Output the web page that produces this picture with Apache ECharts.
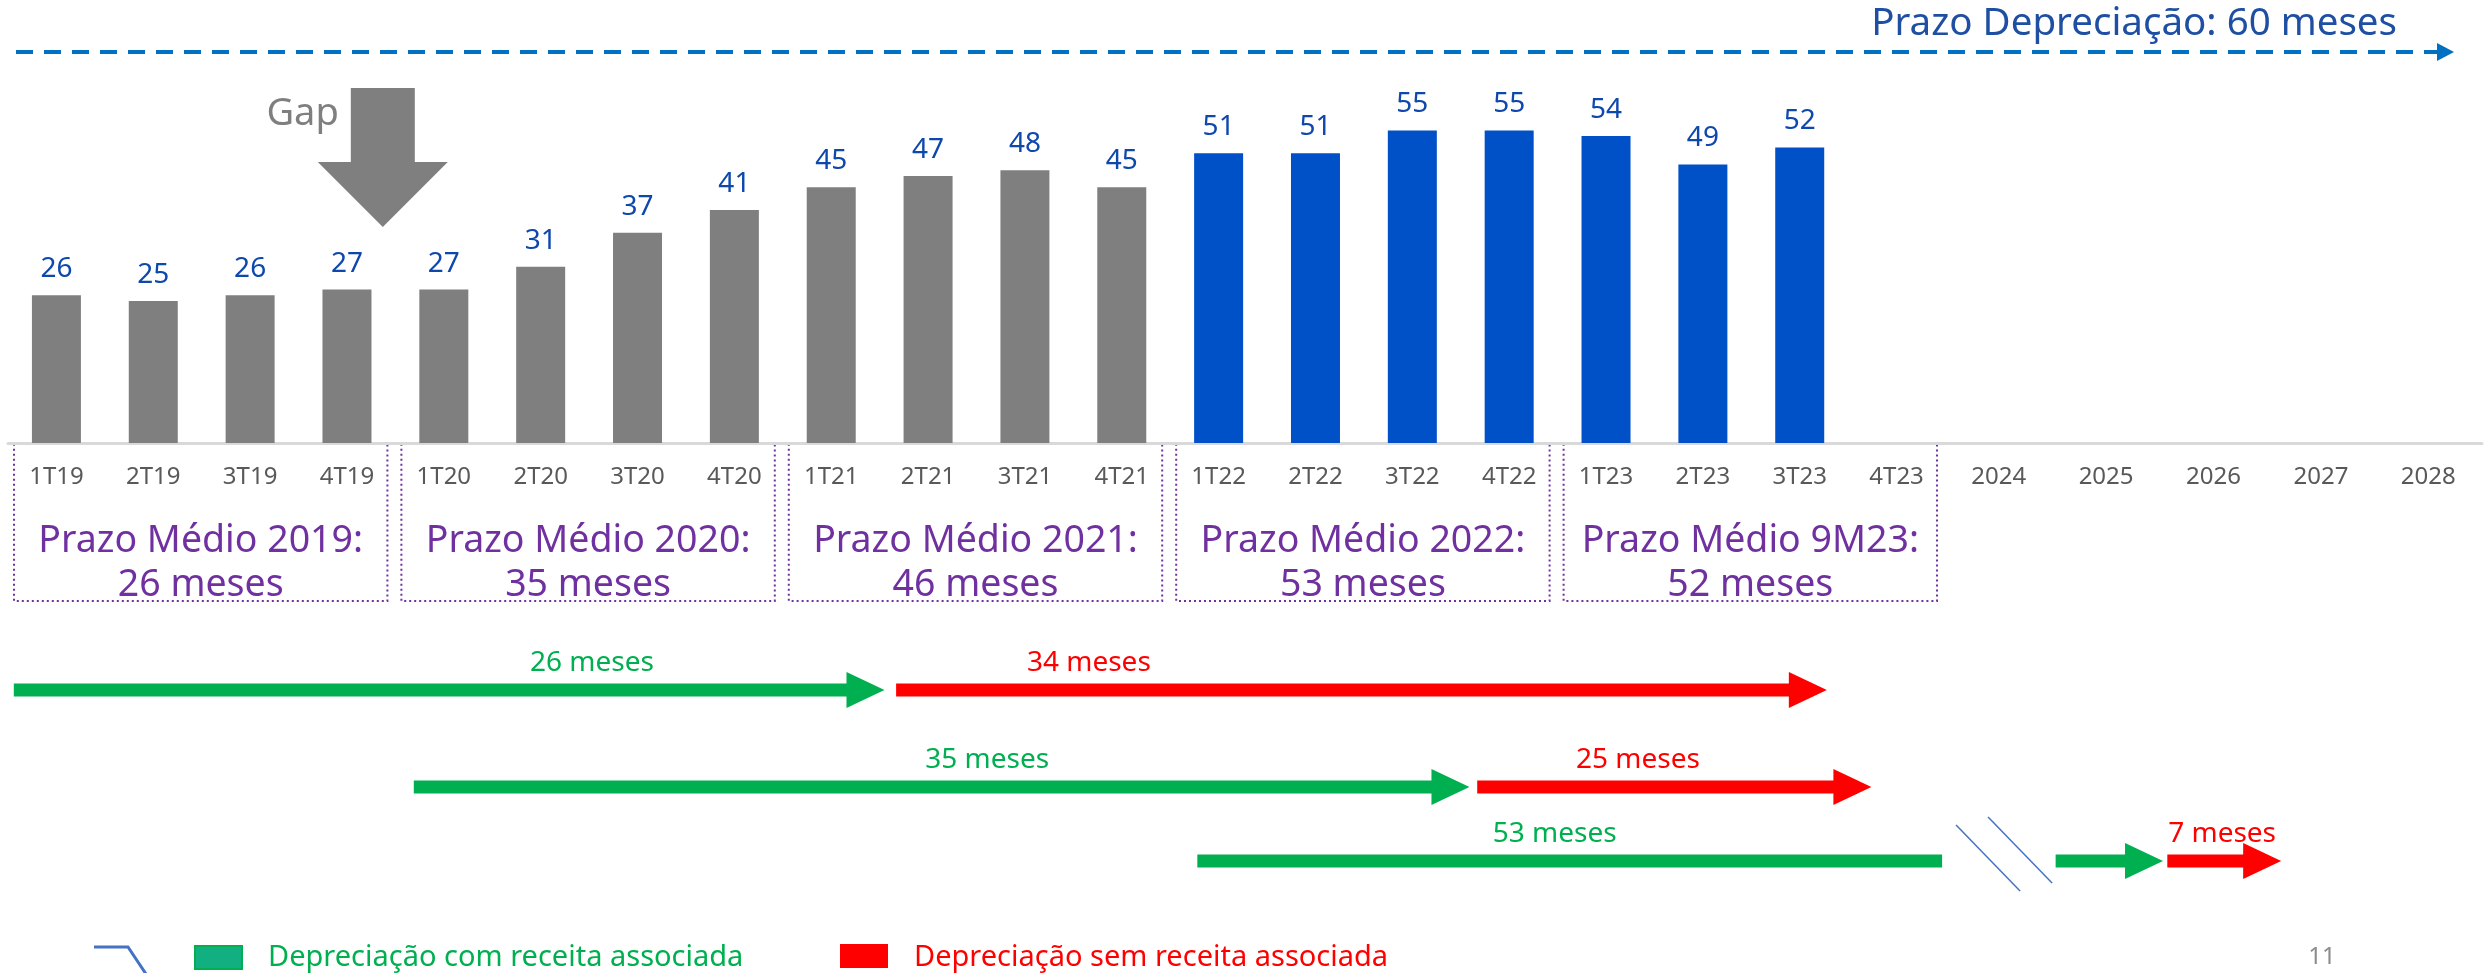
<!DOCTYPE html>
<html>
<head>
<meta charset="utf-8">
<script src="https://cdn.jsdelivr.net/npm/echarts@6/dist/echarts.min.js"></script>
<style>
  html, body { margin: 0; padding: 0; background: #fff; }
  #chart { width: 2489px; height: 973px; }
</style>
</head>
<body>
<div id="chart"></div>
<script>
// dados
const quarters = ['1T19', '2T19', '3T19', '4T19', '1T20', '2T20', '3T20', '4T20',
  '1T21', '2T21', '3T21', '4T21', '1T22', '2T22', '3T22', '4T22',
  '1T23', '2T23', '3T23', '4T23']
const years = ['2024', '2025', '2026', '2027', '2028']
const prazoMedio = [26, 25, 26, 27, 27, 31, 37, 41, 45, 47, 48, 45, 51, 51, 55, 55, 54, 49, 52]
const firstBlueIdx = 12 // a partir de 1T22

const groupTitle = ['Prazo Médio 2019:', 'Prazo Médio 2020:', 'Prazo Médio 2021:', 'Prazo Médio 2022:', 'Prazo Médio 9M23:']
const groupMonths = [26, 35, 46, 53, 52]

// setas (posição na linha do tempo: 0..20 trimestres, 20..25 anos)
const spanFrom = [0.06, 9.17, 4.19, 15.17, 12.28, 21.03, 22.07]
const spanTo = [9.05, 18.78, 15.09, 19.24, 19.97, 22.03, 23.13]
const spanRow = [0, 0, 1, 1, 2, 2, 2]
const spanKind = ['com', 'sem', 'com', 'sem', 'com', 'com', 'sem']
const spanHead = [true, true, true, true, false, true, true]
const spanText = ['26 meses', '34 meses', '35 meses', '25 meses', '53 meses', '', '7 meses']
const spanTextAt = [6.03, 11.16, 10.11, 16.83, 15.97, null, 22.58]
const breakAt = 20.55
const gapAt = 3.87

const FONT = '"Noto Sans", sans-serif'
const GREEN = '#00B050'
const RED = '#FF0000'
const PURPLE = '#7030A0'

const chart = echarts.init(document.getElementById('chart'))

chart.setOption({
  animation: false,
  textStyle: { fontFamily: FONT },
  grid: [
    { left: 8, right: 544, top: 102, bottom: 530 },
    { left: 1945, right: 7, top: 102, bottom: 530 }
  ],
  xAxis: [
    {
      type: 'category',
      gridIndex: 0,
      data: quarters,
      axisLine: { lineStyle: { color: '#D9D9D9', width: 3 } },
      axisTick: { show: false },
      axisLabel: { interval: 0, color: '#595959', fontSize: 24, margin: 22 }
    },
    {
      type: 'category',
      gridIndex: 1,
      data: years,
      axisLine: { lineStyle: { color: '#D9D9D9', width: 3 } },
      axisTick: { show: false },
      axisLabel: { interval: 0, color: '#595959', fontSize: 24, margin: 22 }
    }
  ],
  yAxis: [
    { type: 'value', gridIndex: 0, min: 0, max: 60, show: false },
    { type: 'value', gridIndex: 1, min: 0, max: 60, show: false }
  ],
  series: [
    {
      type: 'bar',
      data: prazoMedio,
      barWidth: 49,
      itemStyle: {
        color: p => (p.dataIndex < firstBlueIdx ? '#7F7F7F' : '#0050C8')
      },
      label: {
        show: true,
        position: 'top',
        distance: 12,
        color: '#0E48AD',
        fontSize: 28
      }
    },
    { type: 'bar', xAxisIndex: 1, yAxisIndex: 1, data: [] }
  ]
})

// linha do tempo -> pixel
const tx = t => {
  if (t <= 20) {
    const p0 = chart.convertToPixel({ xAxisIndex: 0 }, quarters[0])
    const band = chart.convertToPixel({ xAxisIndex: 0 }, quarters[1]) - p0
    return p0 - band / 2 + t * band
  }
  const p0 = chart.convertToPixel({ xAxisIndex: 1 }, years[0])
  const band = chart.convertToPixel({ xAxisIndex: 1 }, years[1]) - p0
  return p0 - band / 2 + (t - 20) * band
}
const baseY = chart.convertToPixel({ yAxisIndex: 0 }, 0)

const graphics = []

// titulo + linha tracejada
graphics.push({
  type: 'text',
  style: { text: 'Prazo Depreciação: 60 meses', x: 2397, y: 24, textAlign: 'right', textVerticalAlign: 'middle', fill: '#1F4FA3', font: '38.5px ' + FONT }
})
graphics.push({
  type: 'line',
  shape: { x1: 16, y1: 52, x2: 2440, y2: 52 },
  style: { stroke: '#0070C0', lineWidth: 4, lineDash: [17, 11] }
})
graphics.push({
  type: 'polygon',
  shape: { points: [[2437, 43], [2454, 52], [2437, 61]] },
  style: { fill: '#0070C0' }
})

// Gap
const gx = tx(gapAt)
graphics.push({
  type: 'polygon',
  shape: { points: [[gx - 32, 88], [gx + 32, 88], [gx + 32, 162], [gx + 65, 162], [gx, 227], [gx - 65, 162], [gx - 32, 162]] },
  style: { fill: '#7F7F7F' }
})
graphics.push({
  type: 'text',
  style: { text: 'Gap', x: gx - 44, y: 114, textAlign: 'right', textVerticalAlign: 'middle', fill: '#7F7F7F', font: '38px ' + FONT }
})

// caixas Prazo Médio
groupTitle.forEach((title, i) => {
  const x0 = tx(i * 4) + 6
  const x1 = tx(i * 4 + 4) - 8
  graphics.push({
    type: 'rect',
    shape: { x: x0, y: baseY, width: x1 - x0, height: 601 - baseY },
    style: { fill: 'none', stroke: PURPLE, lineWidth: 2, lineDash: [2, 3] }
  })
  graphics.push({
    type: 'text',
    style: { text: title, x: (x0 + x1) / 2, y: 541, textAlign: 'center', textVerticalAlign: 'middle', fill: PURPLE, font: '37.5px ' + FONT }
  })
  graphics.push({
    type: 'text',
    style: { text: groupMonths[i] + ' meses', x: (x0 + x1) / 2, y: 585, textAlign: 'center', textVerticalAlign: 'middle', fill: PURPLE, font: '37.5px ' + FONT }
  })
})

// setas de depreciação
const rowY = [690, 787, 861]
spanFrom.forEach((from, i) => {
  const x0 = tx(from)
  const x1 = tx(spanTo[i])
  const y = rowY[spanRow[i]]
  const color = spanKind[i] === 'com' ? GREEN : RED
  const h = 6.5
  const H = 18
  const L = spanHead[i] ? 38 : 0
  const pts = spanHead[i]
    ? [[x0, y - h], [x1 - L, y - h], [x1 - L, y - H], [x1, y], [x1 - L, y + H], [x1 - L, y + h], [x0, y + h]]
    : [[x0, y - h], [x1, y - h], [x1, y + h], [x0, y + h]]
  graphics.push({ type: 'polygon', shape: { points: pts }, style: { fill: color } })
  if (spanText[i]) {
    graphics.push({
      type: 'text',
      style: { text: spanText[i], x: tx(spanTextAt[i]), y: y - 27, textAlign: 'center', textVerticalAlign: 'middle', fill: color, font: '28px ' + FONT }
    })
  }
})

// quebra
const bx = tx(breakAt)
;[-16, 16].forEach(off => {
  graphics.push({
    type: 'line',
    shape: { x1: bx + off - 32, y1: 821 - off / 4, x2: bx + off + 32, y2: 887 - off / 4 },
    style: { stroke: '#4472C4', lineWidth: 1.5 }
  })
})

// legenda
graphics.push({
  type: 'polyline',
  shape: { points: [[94, 947], [128, 947], [150, 980]] },
  style: { stroke: '#4472C4', lineWidth: 3, fill: 'none' }
})
graphics.push({
  type: 'rect',
  shape: { x: 195, y: 946, width: 47, height: 23 },
  style: { fill: '#12B080', stroke: GREEN, lineWidth: 2 }
})
graphics.push({
  type: 'text',
  style: { text: 'Depreciação com receita associada', x: 268, y: 958, textVerticalAlign: 'middle', fill: GREEN, font: '29px ' + FONT }
})
graphics.push({
  type: 'rect',
  shape: { x: 840, y: 944, width: 48, height: 24 },
  style: { fill: RED }
})
graphics.push({
  type: 'text',
  style: { text: 'Depreciação sem receita associada', x: 914, y: 958, textVerticalAlign: 'middle', fill: RED, font: '29px ' + FONT }
})
graphics.push({
  type: 'text',
  style: { text: '11', x: 2322, y: 957, textAlign: 'center', textVerticalAlign: 'middle', fill: '#8C8C8C', font: '24px ' + FONT }
})

chart.setOption({ graphic: graphics })
</script>
</body>
</html>
